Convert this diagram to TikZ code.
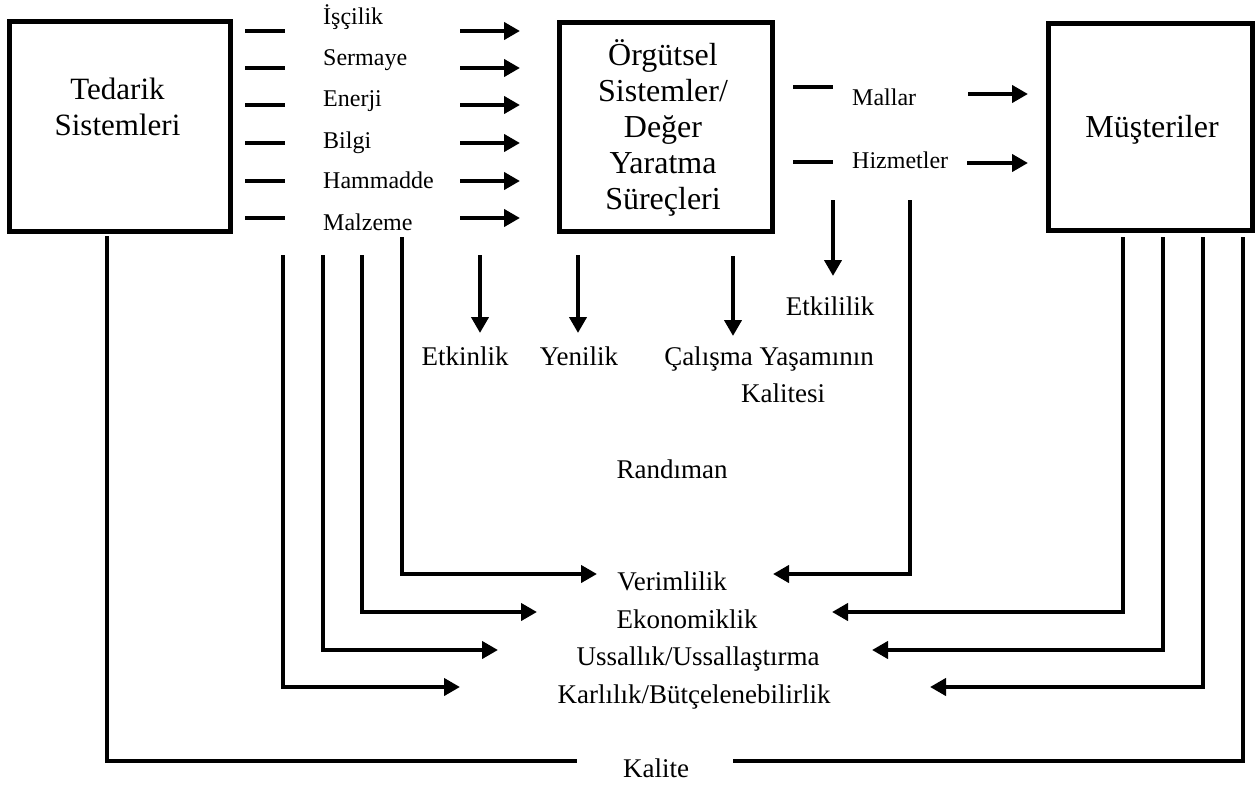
\documentclass[tikz,border=0pt]{standalone}
\usepackage{fontspec}
\setmainfont{Liberation Serif}
\usetikzlibrary{arrows.meta}
\begin{document}
\begin{tikzpicture}[x=1pt,y=-1pt,
  box/.style={draw,line width=5pt,inner sep=0pt,anchor=north west},
  bigtxt/.style={inner sep=0pt,align=center,font=\fontsize{31}{36}\selectfont},
  intxt/.style={inner sep=0pt,anchor=base west,font=\fontsize{24}{28}\selectfont},
  restxt/.style={inner sep=0pt,anchor=base,font=\fontsize{27}{31}\selectfont},
  flow/.style={line width=4.5pt},
  arr/.style={line width=4.5pt,-{Triangle[length=16pt,width=17pt]}}]
\useasboundingbox (0,0) rectangle (1258,787);

% the three main blocks
\node[box,minimum width=221pt,minimum height=210pt] (ted) at (7,19) {};
\node[box,minimum width=213pt,minimum height=209pt] (org) at (557,20) {};
\node[box,minimum width=204pt,minimum height=207pt] (mus) at (1046,21) {};

\node[bigtxt] (tedt) at (117.5,107) {Tedarik\\Sistemleri};
\node[bigtxt,font=\fontsize{32}{36}\selectfont] (orgt) at (663,128)
  {Örgütsel\\Sistemler/\\Değer\\Yaratma\\Süreçleri};
\node[bigtxt,anchor=base,font=\fontsize{32}{36}\selectfont] (must) at (1152,137) {Müşteriler};

% inputs from the supply systems
\foreach \name/\txt/\bl/\ly in {i1/İşçilik/24/31, i2/Sermaye/65/68, i3/Enerji/106/105,
    i4/Bilgi/148/143, i5/Hammadde/188/181, i6/Malzeme/230/218}{
  \node[intxt] (\name) at (323,\bl) {\txt};
  \coordinate (\name a) at (245,\ly);
  \coordinate (\name b) at (285,\ly);
  \coordinate (\name c) at (460,\ly);
  \coordinate (\name d) at (520,\ly);
  \draw[flow] (\name a) -- (\name b);
  \draw[arr] (\name c) -- (\name d);
}

% outputs to the customers
\node[intxt] (mal) at (852,105) {Mallar};
\node[intxt] (hiz) at (852,168) {Hizmetler};
\coordinate (mala) at (793,87);  \coordinate (malb) at (833,87);
\coordinate (malc) at (968,94);  \coordinate (mald) at (1028,94);
\coordinate (hiza) at (793,162); \coordinate (hizb) at (833,162);
\coordinate (hizc) at (967,163); \coordinate (hizd) at (1028,163);
\draw[flow] (mala) -- (malb);
\draw[arr] (malc) -- (mald);
\draw[flow] (hiza) -- (hizb);
\draw[arr] (hizc) -- (hizd);

% performance criteria
\node[restxt] (etkin) at (465,365) {Etkinlik};
\node[restxt] (yeni) at (579,365) {Yenilik};
\node[restxt] (calis) at (769,365) {Çalışma Yaşamının};
\node[restxt] (kalts) at (783,402) {Kalitesi};
\node[restxt] (etkil) at (830,315) {Etkililik};
\node[restxt] (rand) at (672,478) {Randıman};
\node[restxt] (verim) at (672,590) {Verimlilik};
\node[restxt] (ekon) at (687,628) {Ekonomiklik};
\node[restxt] (ussal) at (698,665) {Ussallık/Ussallaştırma};
\node[restxt] (karl) at (694,703) {Karlılık/Bütçelenebilirlik};
\node[restxt] (kal) at (656,777) {Kalite};

% downward arrows
\coordinate (d1) at (480,255); \coordinate (d1e) at (480,333);
\coordinate (d2) at (578,255); \coordinate (d2e) at (578,333);
\coordinate (d3) at (733,256); \coordinate (d3e) at (733,336);
\coordinate (d4) at (833,200); \coordinate (d4e) at (833,276);
\draw[arr] (d1) -- (d1e);
\draw[arr] (d2) -- (d2e);
\draw[arr] (d3) -- (d3e);
\draw[arr] (d4) -- (d4e);

% feedback lines from the left
\coordinate (l1) at (283,255); \coordinate (l1e) at (460,687);
\coordinate (l2) at (323,255); \coordinate (l2e) at (498,650);
\coordinate (l3) at (362,255); \coordinate (l3e) at (537,612);
\coordinate (l4) at (402,237); \coordinate (l4e) at (597,574);
\draw[arr] (l1) |- (l1e);
\draw[arr] (l2) |- (l2e);
\draw[arr] (l3) |- (l3e);
\draw[arr] (l4) |- (l4e);

% feedback lines from the right
\coordinate (r0) at (910,200);  \coordinate (r0e) at (773,574);
\coordinate (r1) at (1123,237); \coordinate (r1e) at (832,612);
\coordinate (r2) at (1163,237); \coordinate (r2e) at (872,650);
\coordinate (r3) at (1203,237); \coordinate (r3e) at (930,687);
\draw[arr] (r0) |- (r0e);
\draw[arr] (r1) |- (r1e);
\draw[arr] (r2) |- (r2e);
\draw[arr] (r3) |- (r3e);

% quality loop along the bottom
\coordinate (q1) at (107,236); \coordinate (q1e) at (577,761);
\coordinate (q2) at (1243,237); \coordinate (q2e) at (733,761);
\draw[flow] (q1) |- (q1e);
\draw[flow] (q2) |- (q2e);
\end{tikzpicture}
\end{document}
